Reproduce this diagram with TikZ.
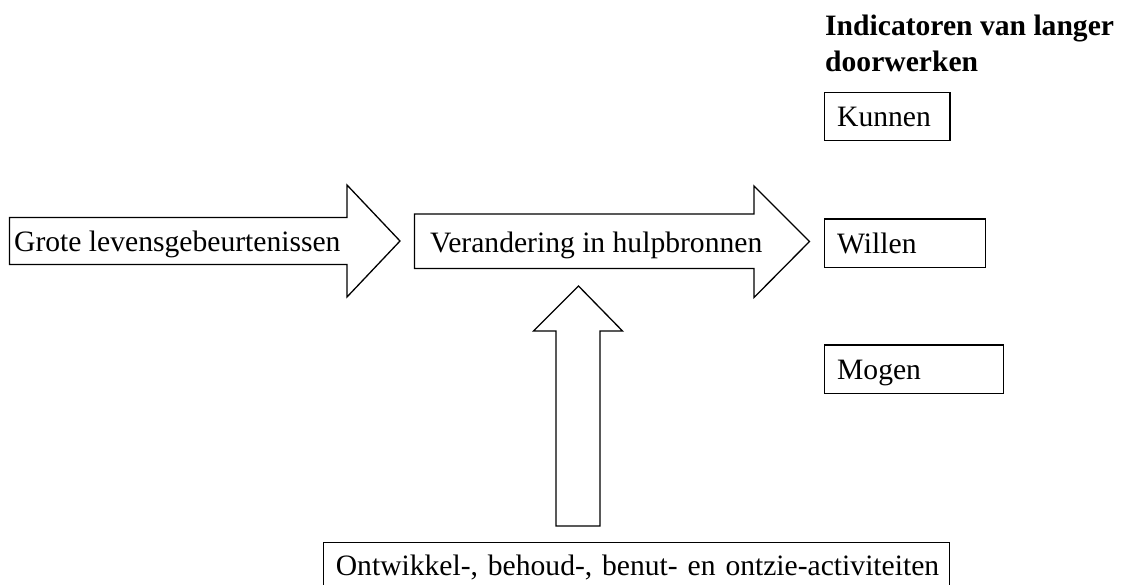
\documentclass[tikz,border=0pt]{standalone}
\usepackage{fontspec}
\setmainfont{Liberation Serif}
\begin{document}
\begin{tikzpicture}[x=1pt,y=-1pt,
  every node/.style={font=\fontsize{29.6}{36.7}\selectfont},
  outline/.style={draw=black, line width=1.3pt, line join=miter},
  label/.style={anchor=base west, inner sep=0pt},
  box/.style={draw=black, line width=1.3pt, anchor=north west, inner xsep=12.5pt, inner ysep=0pt,
              text height=20pt, text depth=0pt, align=left}]
\path[use as bounding box, clip] (0,0) rectangle (1126,584);

% title (anchor base = baseline of last line)
\node[label, align=left, font=\fontsize{29.6}{36.7}\selectfont\bfseries] (title) at (825,71.7)
  {Indicatoren van langer\\doorwerken};

% block arrow: life events
\draw[outline] (9.5,217.5) -- (347,217.5) -- (347,185) -- (400,241) -- (347,297)
  -- (347,264.5) -- (9.5,264.5) -- cycle;
\node[label] (grote) at (14,251) {Grote levensgebeurtenissen};

% block arrow: change in resources
\draw[outline] (414.5,214) -- (754,214) -- (754,186) -- (809.5,241.5) -- (754,297.5)
  -- (754,268.5) -- (414.5,268.5) -- cycle;
\node[label] (verandering) at (430,252) {Verandering in hulpbronnen};

% vertical block arrow
\draw[outline] (556,526) -- (556,331) -- (533.5,331) -- (578.5,286) -- (622.5,331)
  -- (600,331) -- (600,526) -- cycle;

% indicator boxes
\node[box, text width=100.3pt, minimum height=48.3pt] (kunnen) at (824,91.7) {Kunnen};
\node[box, text width=136pt, minimum height=48.4pt] (willen) at (824,218.3) {Willen};
\node[box, text width=153.7pt, minimum height=48.4pt] (mogen) at (824,344.3) {Mogen};

% bottom box
\node[box, inner ysep=13pt, text width=601.3pt] (activiteiten) at (322.7,542)
  {\mbox{Ontwikkel-, behoud-, benut- en ontzie-activiteiten}};
\end{tikzpicture}
\end{document}
